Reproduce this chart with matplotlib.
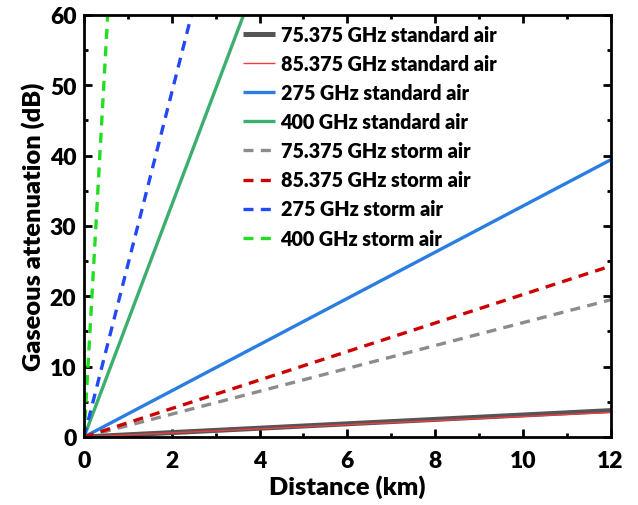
import matplotlib
matplotlib.use("Agg")
import matplotlib.pyplot as plt
from matplotlib.ticker import MultipleLocator

plt.rcParams['font.family'] = ['Lato', 'DejaVu Sans']
W = 'heavy'

# Path endpoints (km) and cumulative gaseous attenuation at those distances (dB)
distance_km = [0, 12]

att_75_std = [0, 3.75]
att_85_std = [0, 3.5]
att_275_std = [0, 39.4]
att_400_std = [0, 198.0]
att_75_storm = [0, 19.5]
att_85_storm = [0, 24.3]
att_275_storm = [0, 294.0]
att_400_storm = [0, 1333.0]

labels = [
    "75.375 GHz standard air",
    "85.375 GHz standard air",
    "275 GHz standard air",
    "400 GHz standard air",
    "75.375 GHz storm air",
    "85.375 GHz storm air",
    "275 GHz storm air",
    "400 GHz storm air",
]

series = [att_75_std, att_85_std, att_275_std, att_400_std,
          att_75_storm, att_85_storm, att_275_storm, att_400_storm]

dash = (0, (3, 2.2))
styles = [
    dict(color="#555555", lw=3.6, ls="-"),
    dict(color="#f03c3c", lw=1.0, ls="-"),
    dict(color="#2a7de1", lw=2.4, ls="-"),
    dict(color="#3cae6e", lw=2.4, ls="-"),
    dict(color="#8c8c8c", lw=2.4, ls=dash),
    dict(color="#cc0000", lw=2.4, ls=dash),
    dict(color="#2348f5", lw=2.4, ls=dash),
    dict(color="#22dd22", lw=2.4, ls=dash),
]

fig = plt.figure(figsize=(6.38, 5.06), dpi=100)
ax = fig.add_axes([0.1317, 0.1344, 0.8253, 0.8340])

for y, lab, st in zip(series, labels, styles):
    ax.plot(distance_km, y, label=lab, color=st["color"], lw=st["lw"],
            ls=st["ls"], solid_capstyle="butt", dash_capstyle="butt")

ax.set_xlim(0, 12)
ax.set_ylim(0, 60)
ax.xaxis.set_major_locator(MultipleLocator(2))
ax.xaxis.set_minor_locator(MultipleLocator(1))
ax.yaxis.set_major_locator(MultipleLocator(10))
ax.yaxis.set_minor_locator(MultipleLocator(5))

for s in ax.spines.values():
    s.set_linewidth(2.0)
ax.tick_params(which="both", direction="in", top=True, right=True, width=2.0)
ax.tick_params(which="major", length=5.5, labelsize=16.5)
ax.tick_params(axis="x", which="major", pad=9.5)
ax.tick_params(axis="y", which="major", pad=5.5)
ax.tick_params(which="minor", length=3)
for t in ax.get_xticklabels() + ax.get_yticklabels():
    t.set_fontweight(W)

ax.set_xlabel("Distance (km)", fontsize=18.3, fontweight=W, labelpad=2.5)
ax.set_ylabel("Gaseous attenuation (dB)", fontsize=18.3, fontweight=W, labelpad=3.5)

leg = ax.legend(loc="upper left", bbox_to_anchor=(0.302, 0.976), frameon=False,
                prop=dict(size=14.2, weight=W), handlelength=1.6,
                handletextpad=0.3, labelspacing=0.51, borderaxespad=0,
                borderpad=0)

fig.savefig("out.png", dpi=100)
